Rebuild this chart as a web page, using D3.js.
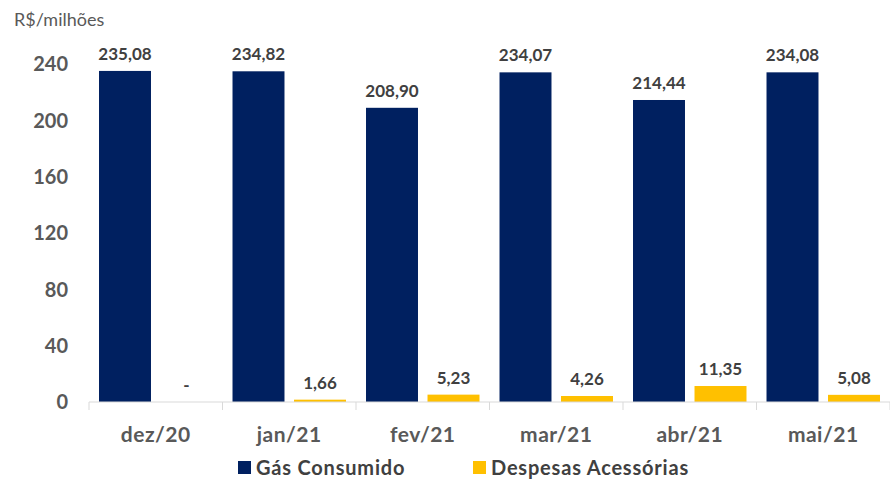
<!DOCTYPE html>
<html>
<head>
<meta charset="utf-8">
<script src="https://cdn.jsdelivr.net/npm/d3@7"></script>
<style>
  body { margin: 0; background: #fff; }
  text { font-family: Lato, "Open Sans", sans-serif; }
</style>
</head>
<body>
<svg width="890" height="479"></svg>
<script>
const months = ["dez/20", "jan/21", "fev/21", "mar/21", "abr/21", "mai/21"];
const gasConsumido = [235.08, 234.82, 208.90, 234.07, 214.44, 234.08];
const despesasAcessorias = [0, 1.66, 5.23, 4.26, 11.35, 5.08];
const seriesNames = ["Gás Consumido", "Despesas Acessórias"];
const yTicks = [0, 40, 80, 120, 160, 200, 240];

const colors = ["#002060", "#FFC000"];

let svg = d3.select("svg");
let margin = { left: 89, right: 0, top: 64, bottom: 77 };
let width = +svg.attr("width") - margin.left - margin.right;
let height = +svg.attr("height") - margin.top - margin.bottom;

let g = svg.append("g")
  .attr("transform", "translate(" + margin.left + ", " + margin.top + ")");

let x0 = d3.scaleBand()
  .domain(months)
  .range([0, width])
  .paddingInner(0.15)
  .paddingOuter(0.075);

let x1 = d3.scaleBand()
  .domain([0, 1])
  .range([0, x0.bandwidth()])
  .paddingInner(0.155);

let y = d3.scaleLinear()
  .domain([0, 240])
  .range([height, 0]);

// unit label
svg.append("text")
  .attr("x", 14)
  .attr("y", 26)
  .attr("font-size", "18px")
  .attr("fill", "#595959")
  .text("R$/milhões");

// y axis labels
g.selectAll(".ytick")
  .data(yTicks)
  .enter()
  .append("text")
  .attr("x", -21)
  .attr("y", d => y(d))
  .attr("dy", "0.36em")
  .attr("text-anchor", "end")
  .attr("font-size", "20px")
  .attr("font-weight", "bold")
  .attr("fill", "#595959")
  .text(d => d);

// data rows
let rows = months.map((m, i) => ({ month: m, values: [gasConsumido[i], despesasAcessorias[i]] }));

let groups = g.selectAll(".grp")
  .data(rows)
  .enter()
  .append("g")
  .attr("transform", d => "translate(" + x0(d.month) + ",0)");

groups.selectAll("rect")
  .data(d => d.values)
  .enter()
  .append("rect")
  .attr("x", (d, i) => x1(i))
  .attr("width", x1.bandwidth())
  .attr("y", d => y(d))
  .attr("height", d => height - y(d))
  .attr("fill", (d, i) => colors[i]);

groups.selectAll(".lbl")
  .data(d => d.values)
  .enter()
  .append("text")
  .attr("x", (d, i) => x1(i) + x1.bandwidth() / 2)
  .attr("y", d => y(d) - 11)
  .attr("text-anchor", "middle")
  .attr("font-size", "17px")
  .attr("font-weight", "bold")
  .attr("fill", "#404040")
  .text(d => d === 0 ? "-" : d3.format(".2f")(d).replace(".", ","));

// x axis
let xAxis = g.append("g")
  .attr("transform", "translate(0," + height + ")");

xAxis.append("line")
  .attr("x1", 0)
  .attr("x2", width)
  .attr("stroke", "#d9d9d9")
  .attr("stroke-width", 1);

xAxis.selectAll(".sep")
  .data(months.concat(["end"]))
  .enter()
  .append("line")
  .attr("x1", (d, i) => i * x0.step())
  .attr("x2", (d, i) => i * x0.step())
  .attr("y1", 0)
  .attr("y2", 8)
  .attr("stroke", "#d9d9d9");

xAxis.selectAll(".xlbl")
  .data(months)
  .enter()
  .append("text")
  .attr("x", d => x0(d) + x0.bandwidth() / 2)
  .attr("y", 40)
  .attr("text-anchor", "middle")
  .attr("font-size", "21px")
  .attr("font-weight", "bold")
  .attr("letter-spacing", "0.5px")
  .attr("fill", "#595959")
  .text(d => d);

// legend
let legendX = [238, 473];
let legend = svg.selectAll(".leg")
  .data(seriesNames)
  .enter()
  .append("g")
  .attr("transform", (d, i) => "translate(" + legendX[i] + ",461)");

legend.append("rect")
  .attr("width", 13)
  .attr("height", 13)
  .attr("fill", (d, i) => colors[i]);

legend.append("text")
  .attr("x", 18)
  .attr("y", 7)
  .attr("dy", "0.36em")
  .attr("font-size", "20px")
  .attr("font-weight", "bold")
  .attr("letter-spacing", "0.8px")
  .attr("fill", "#404040")
  .text(d => d);
</script>
</body>
</html>
